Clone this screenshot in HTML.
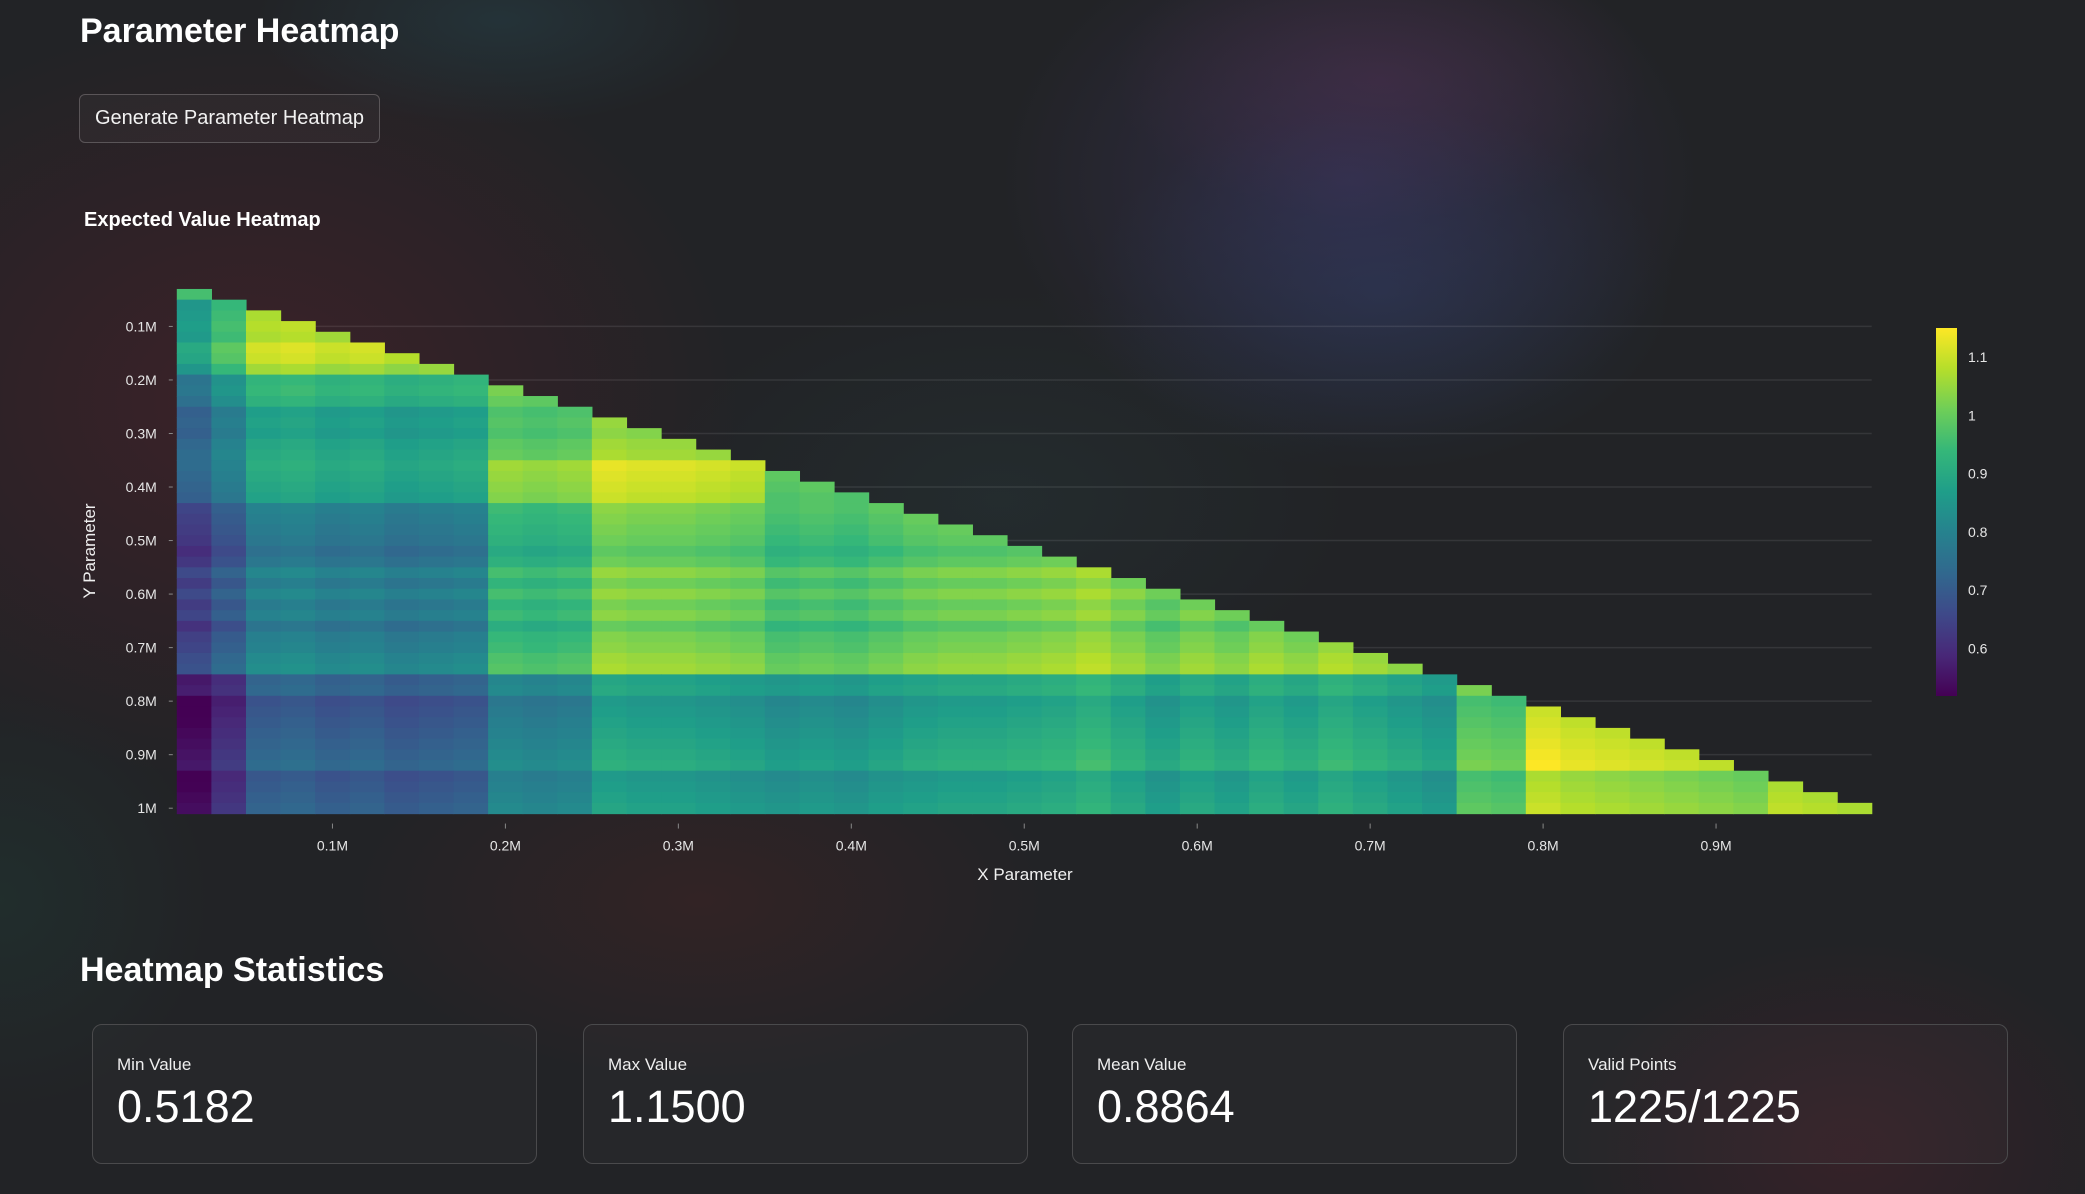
<!DOCTYPE html>
<html><head><meta charset="utf-8">
<style>
html,body{margin:0;padding:0;}
body{width:2085px;height:1194px;overflow:hidden;position:relative;font-family:"Liberation Sans",Arial,sans-serif;color:#fff;
background:
radial-gradient(ellipse 500px 380px at 1350px 180px, rgba(70,60,120,0.4), transparent 70%),
radial-gradient(ellipse 420px 260px at 1380px 290px, rgba(40,70,110,0.35), transparent 70%),
radial-gradient(ellipse 500px 300px at 1000px 500px, rgba(40,70,70,0.25), transparent 70%),
radial-gradient(ellipse 380px 200px at 1380px 80px, rgba(110,50,80,0.3), transparent 70%),
radial-gradient(ellipse 350px 150px at 500px 20px, rgba(40,80,90,0.35), transparent 70%),
radial-gradient(ellipse 700px 550px at 250px 400px, rgba(85,32,42,0.5), transparent 70%),
radial-gradient(ellipse 500px 260px at 700px 900px, rgba(80,35,35,0.35), transparent 70%),
radial-gradient(ellipse 400px 300px at 1850px 1150px, rgba(90,30,45,0.35), transparent 70%),
radial-gradient(ellipse 300px 300px at 0px 900px, rgba(30,70,60,0.3), transparent 70%),
#222326;}
.t1{position:absolute;left:80px;top:12px;font-size:34px;font-weight:bold;}
.btn{position:absolute;left:79px;top:94px;width:299px;height:47px;border:1px solid #5a5558;border-radius:6px;background:rgba(255,255,255,0.03);font-size:20px;line-height:47px;text-align:center;color:#f2f2f2;}
.t2{position:absolute;left:84px;top:209px;font-size:20px;font-weight:bold;}
.t3{position:absolute;left:80px;top:951px;font-size:34px;font-weight:bold;}
.card{position:absolute;top:1024px;width:443px;height:138px;border:1px solid #4a4a4c;border-radius:10px;background:rgba(255,255,255,0.02);}
.card .l{position:absolute;left:24px;top:30px;font-size:17px;color:#eee;}
.card .v{position:absolute;left:24px;top:56px;font-size:45px;color:#fff;}
</style></head>
<body>
<div class="t1">Parameter Heatmap</div>
<div class="btn">Generate Parameter Heatmap</div>
<div class="t2">Expected Value Heatmap</div>
<svg id="chart" width="2085" height="920" style="position:absolute;left:0;top:0;font-family:'Liberation Sans',Arial,sans-serif"></svg>
<div class="t3">Heatmap Statistics</div>
<div class="card" style="left:92px"><div class="l">Min Value</div><div class="v">0.5182</div></div>
<div class="card" style="left:583px"><div class="l">Max Value</div><div class="v">1.1500</div></div>
<div class="card" style="left:1072px"><div class="l">Mean Value</div><div class="v">0.8864</div></div>
<div class="card" style="left:1563px"><div class="l">Valid Points</div><div class="v">1225/1225</div></div>
<script>
// Data
const xTicks = [0.1,0.2,0.3,0.4,0.5,0.6,0.7,0.8,0.9];
const xTickLabels = ["0.1M","0.2M","0.3M","0.4M","0.5M","0.6M","0.7M","0.8M","0.9M"];
const yTicks = [0.1,0.2,0.3,0.4,0.5,0.6,0.7,0.8,0.9,1.0];
const yTickLabels = ["0.1M","0.2M","0.3M","0.4M","0.5M","0.6M","0.7M","0.8M","0.9M","1M"];
const cbTicks = [0.6,0.7,0.8,0.9,1,1.1];
const cbTickLabels = ["0.6","0.7","0.8","0.9","1","1.1"];
const xCats = [];for(let i=1;i<=49;i++) xCats.push(+(0.02*i).toFixed(2));
const yCats = [];for(let i=0;i<49;i++) yCats.push(+(0.04+0.02*i).toFixed(2));
// block structure: row-block start indices, col-block start indices
const rowBlockStarts = [0,8,11,16,20,36,38,45];
const colBlockStarts = [0,1,2,9,12,17,21,37,39,46];
const blockA = [0.86,0.95,1.06,1.06,1.06,1.06,1.06,1.06,1.06,1.06];
const blockB = [0.76,0.84,0.92,1.00,1.00,1.00,1.00,1.00,1.00,1.00];
const blockC = [0.72,0.79,0.87,0.97,1.02,1.02,1.02,1.02,1.02,1.02];
const blockD = [0.72,0.78,0.88,1.03,1.08,0.98,0.98,0.98,0.98,0.98];
const blockE = [0.64,0.70,0.78,0.93,1.00,0.96,1.00,1.00,1.00,1.00];
const blockF = [0.56,0.60,0.71,0.80,0.86,0.85,0.88,1.00,1.00,1.00];
const blockG = [0.53,0.60,0.70,0.79,0.86,0.84,0.88,0.98,1.08,1.08];
const blockH = [0.52,0.60,0.69,0.79,0.84,0.83,0.86,0.96,1.04,1.05];
const blocks = [blockA,blockB,blockC,blockD,blockE,blockF,blockG,blockH];
const rowOff = [0.10,-0.01,0,0.01,0,0.04,0.03,-0.01,
 0,0.01,-0.01,
 -0.01,0,-0.01,0.01,0.02,
 0.02,0.01,0,-0.01,
 0.01,0,-0.01,-0.02,-0.04,-0.02,0.02,-0.01,0.02,-0.01,0.01,-0.03,0,0.01,0.03,0.04,
 0,0.01,
 -0.03,-0.02,-0.01,0,0.01,0.02,0.03,
 -0.01,0,0.01,0.02];
const colOff = [0,0,0.01,0.02,0,0.01,-0.01,0,0.01,
 0.01,0,0.01,
 0.03,0.02,0.02,0.01,0,
 0,0.01,0,0.02,
 0,0.01,0.01,0.02,0.03,0.05,0.02,-0.01,0.02,0,0.03,0.01,0.04,0.02,0,-0.02,
 0.01,0,
 0.04,0.02,0.01,0,-0.01,-0.02,-0.03,
 0.02,0.01,0];
const viridis = ["#440154","#482878","#3e4989","#31688e","#26828e","#1f9e89","#35b779","#6ece58","#b5de2b","#fde725"];
const vMin = 0.5182, vMax = 1.15;

const svg = document.getElementById('chart');
const NS = "http://www.w3.org/2000/svg";
const X0=159.5, PXX=1729.5;
const Y0=272.9, PXY=535.3;
const xs = v => X0 + v*PXX;
const ys = v => Y0 + v*PXY;
const plotL = xs(0.01), plotR = xs(0.99), plotT = ys(0.03), plotB = ys(1.01);
const CB = {x:1936,w:21,top:328,bot:696};
const cbScale = v => CB.bot - (v - vMin)/(vMax - vMin)*(CB.bot-CB.top);
function hex(h){return [parseInt(h.substr(1,2),16),parseInt(h.substr(3,2),16),parseInt(h.substr(5,2),16)];}
function color(v){let t=(v-vMin)/(vMax-vMin);t=Math.max(0,Math.min(1,t));const p=t*(viridis.length-1);const i=Math.min(Math.floor(p),viridis.length-2);const f=p-i;const a=hex(viridis[i]),b=hex(viridis[i+1]);return `rgb(${Math.round(a[0]+(b[0]-a[0])*f)},${Math.round(a[1]+(b[1]-a[1])*f)},${Math.round(a[2]+(b[2]-a[2])*f)})`;}
function mk(tag,attrs){const e=document.createElementNS(NS,tag);for(const k in attrs)e.setAttribute(k,attrs[k]);svg.appendChild(e);return e;}
function blockIdx(starts,i){let b=0;for(let k=0;k<starts.length;k++) if(i>=starts[k]) b=k;return b;}

yTicks.forEach((t,i)=>{
  const g=mk('line',{x1:plotL,x2:plotR,y1:ys(t),y2:ys(t),stroke:'rgba(255,255,255,0.09)','stroke-width':1.5});
  
  
});
const dx = 0.02*PXX, dy = 0.02*PXY;
for(let r=0;r<yCats.length;r++){
  for(let c=0;c<xCats.length;c++){
    if(yCats[r] < xCats[c]+0.02-1e-9) continue;
    const v = blocks[blockIdx(rowBlockStarts,r)][blockIdx(colBlockStarts,c)] + rowOff[r] + colOff[c];
    const cell = mk('rect',{x:xs(xCats[c])-dx/2,y:ys(yCats[r])-dy/2,width:dx+0.6,height:dy+0.6,fill:color(v)});
    
    
  }
}
yTicks.forEach((t,i)=>{
  const tk=mk('line',{x1:plotL-8,x2:plotL-4,y1:ys(t),y2:ys(t),stroke:'#888','stroke-width':1});
  
  
  const tx=mk('text',{x:plotL-20,y:ys(t)+5,'text-anchor':'end','font-size':14,fill:'#e6e6e6'});
  tx.textContent=yTickLabels[i];
  
  
});
xTicks.forEach((t,i)=>{
  const tk=mk('line',{x1:xs(t),x2:xs(t),y1:plotB+10,y2:plotB+15,stroke:'#888','stroke-width':1});
  
  
  const tx=mk('text',{x:xs(t),y:plotB+37,'text-anchor':'middle','font-size':14,fill:'#e6e6e6'});
  tx.textContent=xTickLabels[i];
  
  
});
const xt=mk('text',{x:1025,y:880,'text-anchor':'middle','font-size':17,fill:'#f0f0f0'});
xt.textContent='X Parameter';


const yt=mk('text',{x:0,y:0,'text-anchor':'middle','font-size':17,fill:'#f0f0f0',transform:'translate(95,551) rotate(-90)'});
yt.textContent='Y Parameter';


const defs=mk('defs',{});
const lg=document.createElementNS(NS,'linearGradient');
lg.setAttribute('id','vg');lg.setAttribute('x1','0');lg.setAttribute('y1','1');lg.setAttribute('x2','0');lg.setAttribute('y2','0');
viridis.forEach((c,i)=>{const s=document.createElementNS(NS,'stop');s.setAttribute('offset',i/(viridis.length-1));s.setAttribute('stop-color',c);lg.appendChild(s);});
defs.appendChild(lg);
const cb=mk('rect',{x:CB.x,y:CB.top,width:CB.w,height:CB.bot-CB.top,fill:'url(#vg)'});


cbTicks.forEach((t,i)=>{
  const tx=mk('text',{x:CB.x+32,y:cbScale(t)+5,'font-size':14,fill:'#e6e6e6'});
  tx.textContent=cbTickLabels[i];
  
  
});
</script>
</body></html>
